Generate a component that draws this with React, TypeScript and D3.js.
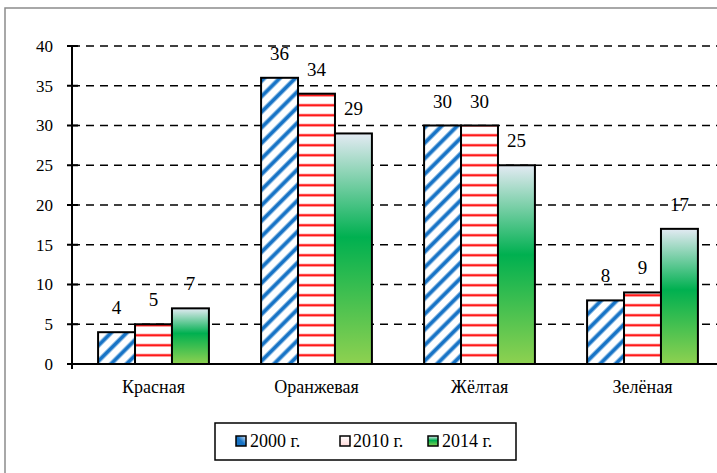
import React from "react"
import * as d3 from "d3"

const CATEGORIES = ["Красная", "Оранжевая", "Жёлтая", "Зелёная"]
const SERIES = ["2000 г.", "2010 г.", "2014 г."]
const VALUES_2000 = [4, 36, 30, 8]
const VALUES_2010 = [5, 34, 30, 9]
const VALUES_2014 = [7, 29, 25, 17]
const Y_TICKS = [0, 5, 10, 15, 20, 25, 30, 35, 40]

const FONT = "'Liberation Serif', 'DejaVu Serif', 'Noto Serif', 'Times New Roman', Times, serif"
const FILLS = ["url(#diag)", "url(#horiz)", "url(#greenGrad)"]
const SWATCH_FILLS = ["url(#swBlue)", "url(#swPink)", "url(#greenGrad)"]

export default function App() {
  const width = 717
  const height = 473
  const axisX = 72

  const x0 = d3
    .scaleBand<string>()
    .domain(CATEGORIES)
    .range([72, 724])
    .paddingInner(0.32)
    .paddingOuter(0.16)
  const x1 = d3
    .scaleBand<number>()
    .domain([0, 1, 2])
    .range([0, x0.bandwidth()])
  const y = d3.scaleLinear().domain([0, 40]).range([364, 46])

  const series = [VALUES_2000, VALUES_2010, VALUES_2014]

  const legendItems = [
    { sx: 236, tx: 250 },
    { sx: 340, tx: 353 },
    { sx: 428, tx: 442 },
  ]

  const txt = { fontFamily: FONT, fill: "#000" }

  return (
    <svg
      width={width}
      height={height}
      style={{ position: "absolute", left: 0, top: 0, background: "#fff" }}
    >
      <defs>
        <pattern
          id="diag"
          patternUnits="userSpaceOnUse"
          width={11}
          height={11}
          patternTransform="rotate(45)"
        >
          <rect width={11} height={11} fill="#fff" />
          <rect x={0} y={0} width={5} height={11} fill="#9cc4e8" />
          <rect x={0.9} y={0} width={3.2} height={11} fill="#1874c6" />
        </pattern>
        <pattern id="horiz" patternUnits="userSpaceOnUse" width={10} height={10}>
          <rect width={10} height={10} fill="#fff" />
          <rect x={0} y={3.5} width={10} height={3.5} fill="#ffbcbc" />
          <rect x={0} y={4.3} width={10} height={1.9} fill="#ff1a1a" />
        </pattern>
        <linearGradient id="greenGrad" x1="0" y1="0" x2="0" y2="1">
          <stop offset="0" stopColor="#e3eaf3" />
          <stop offset="0.45" stopColor="#00b050" />
          <stop offset="1" stopColor="#8ed150" />
        </linearGradient>
        <linearGradient id="swBlue" x1="0" y1="1" x2="1" y2="0">
          <stop offset="0" stopColor="#1874c6" />
          <stop offset="0.5" stopColor="#1874c6" />
          <stop offset="1" stopColor="#d8e8f8" />
        </linearGradient>
        <linearGradient id="swPink" x1="0" y1="0" x2="0" y2="1">
          <stop offset="0" stopColor="#fff" />
          <stop offset="1" stopColor="#ffd8d8" />
        </linearGradient>
      </defs>

      {/* outer frame */}
      <rect x={5} y={8} width={900} height={900} fill="none" stroke="#8c8c8c" strokeWidth={1.5} />

      {/* gridlines */}
      {Y_TICKS.filter(t => t > 0).map(t => (
        <line
          key={t}
          x1={axisX}
          x2={width}
          y1={y(t)}
          y2={y(t)}
          stroke="#000"
          strokeWidth={1.5}
          strokeDasharray="8 6"
        />
      ))}

      {/* bars */}
      {CATEGORIES.map((c, ci) => (
        <g key={c} transform={`translate(${x0(c)},0)`}>
          {series.map((vals, si) => {
            const v = vals[ci]
            const bx = x1(si)!
            const bw = x1.bandwidth()
            return (
              <g key={si}>
                <rect
                  x={bx}
                  y={y(v)}
                  width={bw}
                  height={y(0) - y(v)}
                  fill={FILLS[si]}
                  stroke="#000"
                  strokeWidth={2}
                />
                <text
                  x={bx + bw / 2}
                  y={y(v) - 18}
                  fontSize={19}
                  textAnchor="middle"
                  style={txt}
                >
                  {v}
                </text>
              </g>
            )
          })}
        </g>
      ))}

      {/* y axis */}
      <line x1={axisX} x2={axisX} y1={y(40)} y2={y(0)} stroke="#000" strokeWidth={2} />
      {Y_TICKS.map(t => (
        <g key={t}>
          <line x1={axisX - 5} x2={axisX + 6} y1={y(t)} y2={y(t)} stroke="#000" strokeWidth={2} />
          <text x={53} y={y(t)} dy="0.35em" fontSize={17} textAnchor="end" style={txt}>
            {t}
          </text>
        </g>
      ))}

      {/* x axis */}
      <line x1={axisX - 5} x2={width} y1={y(0)} y2={y(0)} stroke="#000" strokeWidth={2} />
      <line x1={axisX} x2={axisX} y1={y(0)} y2={y(0) + 5} stroke="#000" strokeWidth={2} />
      {CATEGORIES.map(c => (
        <text
          key={c}
          x={x0(c)! + x0.bandwidth() / 2}
          y={393}
          fontSize={18}
          textAnchor="middle"
          style={txt}
        >
          {c}
        </text>
      ))}

      {/* legend */}
      <rect x={215} y={423} width={301} height={37} fill="#fff" stroke="#000" strokeWidth={1.5} />
      {SERIES.map((s, i) => (
        <g key={s}>
          <rect
            x={legendItems[i].sx}
            y={436}
            width={10}
            height={10}
            fill={SWATCH_FILLS[i]}
            stroke="#000"
            strokeWidth={1.5}
          />
          <text x={legendItems[i].tx} y={447} fontSize={18} style={txt}>
            {s}
          </text>
        </g>
      ))}
    </svg>
  )
}
